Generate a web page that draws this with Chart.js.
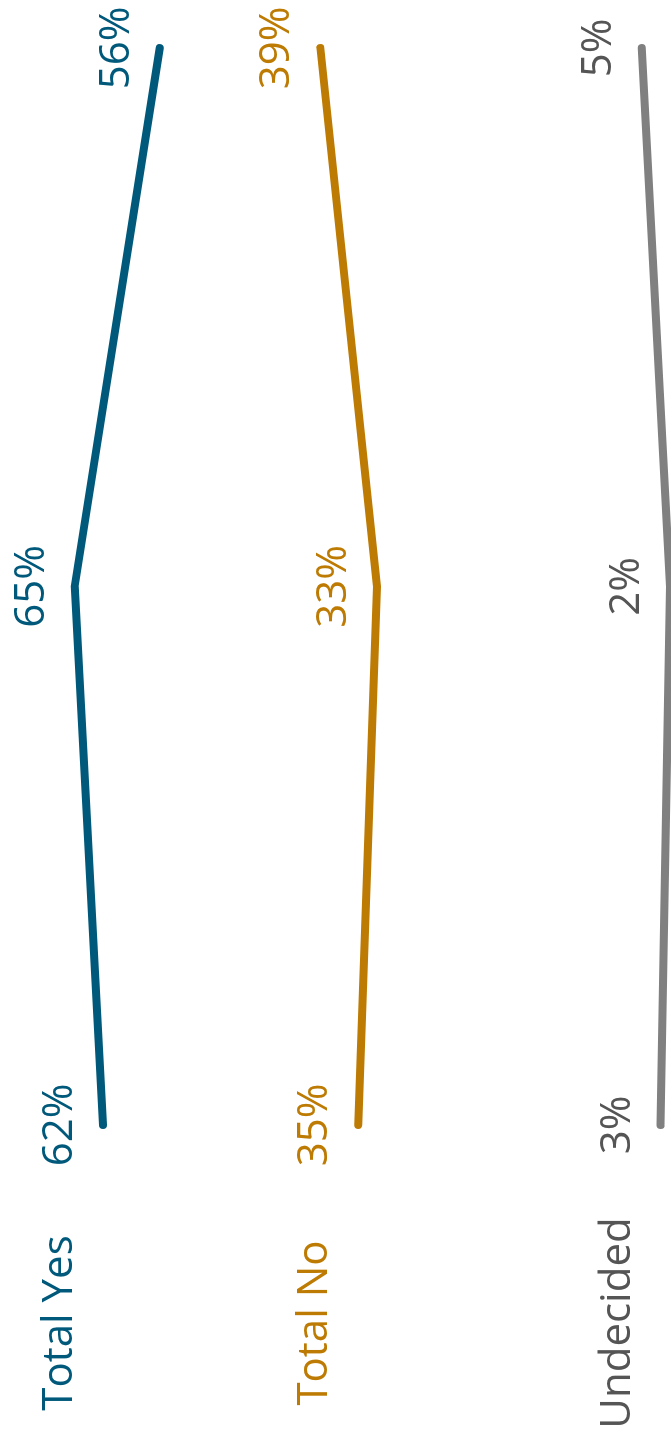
<!DOCTYPE html>
<html>
<head>
<meta charset="utf-8">
<script src="https://cdn.jsdelivr.net/npm/chart.js@4"></script>
<style>
  html, body { margin: 0; padding: 0; background: #fff; overflow: hidden; }
  #wrap {
    position: absolute; left: 0; top: 0;
    width: 1446px; height: 671px;
    transform-origin: top left;
    transform: translateY(1446px) rotate(-90deg);
  }
</style>
</head>
<body>
<div id="wrap"><canvas id="myChart" width="1446" height="671"></canvas></div>
<script>
// dados do gráfico
const periodos = ['Poll 1', 'Poll 2', 'Poll 3'];
const totalYes = [62, 65, 56];
const totalNo = [35, 33, 39];
const undecided = [3, 2, 5];
const nomes = ['Total Yes', 'Total No', 'Undecided'];

const corLinha = ['#00597a', '#bd7b03', '#808080'];
const corTexto = ['#00597a', '#bd7b03', '#555555'];

// plugin simples para escrever os rótulos
const rotulos = {
    id: 'rotulos',
    afterDatasetsDraw(chart) {
        const ctx = chart.ctx;
        const xs = chart.scales.x;
        ctx.save();
        ctx.font = '42px "Open Sans"';
        ctx.textAlign = 'center';
        ctx.textBaseline = 'middle';
        chart.data.datasets.forEach((ds, i) => {
            const meta = chart.getDatasetMeta(i);
            ctx.fillStyle = corTexto[i];
            meta.data.forEach((pt, j) => {
                ctx.fillText(ds.data[j] + '%', pt.x, pt.y - 43);
            });
            const first = meta.data[0];
            ctx.fillText(nomes[i], xs.getPixelForValue(0) - 198, first.y - 43);
        });
        ctx.restore();
    }
};

const ctx = document.getElementById('myChart').getContext('2d');
const myChart = new Chart(ctx, {
    type: 'line',
    data: {
        labels: periodos,
        datasets: [
            { label: nomes[0], data: totalYes, borderColor: corLinha[0] },
            { label: nomes[1], data: totalNo, borderColor: corLinha[1] },
            { label: nomes[2], data: undecided, borderColor: corLinha[2] }
        ].map(d => Object.assign(d, {
            borderWidth: 8,
            borderCapStyle: 'round',
            borderJoinStyle: 'miter',
            pointRadius: 0,
            tension: 0,
            fill: false,
            clip: false
        }))
    },
    options: {
        responsive: false,
        animation: false,
        devicePixelRatio: 1,
        layout: { padding: { left: 321, right: 48, top: 0, bottom: 0 } },
        plugins: { legend: { display: false }, tooltip: { enabled: false } },
        scales: {
            x: { display: false },
            y: { display: false, min: 1.9, max: 72.9 }
        }
    },
    plugins: [rotulos]
});
</script>
</body>
</html>
